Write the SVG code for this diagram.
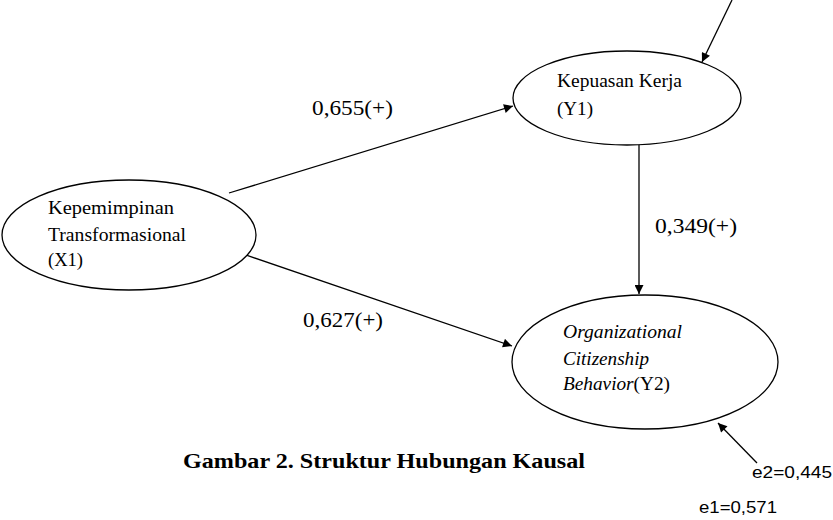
<svg xmlns="http://www.w3.org/2000/svg" width="833" height="520" viewBox="0 0 833 520">
<style>
.node{fill:#fff;stroke:#000;stroke-width:1.3}
.t{font-family:"Liberation Serif","Times New Roman",serif;fill:#000}
.lbl{font-family:"Liberation Serif","Times New Roman",serif;font-size:22px;fill:#000}
.e{font-family:"Liberation Sans",Arial,sans-serif;font-size:16px;fill:#000}
.c line{stroke:#000;stroke-width:1.3;marker-end:url(#ah)}
</style>
<defs>
<marker id="ah" viewBox="0 0 10 10" refX="10" refY="5" markerWidth="11" markerHeight="9" markerUnits="userSpaceOnUse" orient="auto">
<path d="M0,0 L10,5 L0,10 Z" fill="#000"/>
</marker>
</defs>
<rect width="833" height="520" fill="#fff"/>
<g id="connectors" class="c">
<line x1="229" y1="193" x2="513" y2="106"/>
<line x1="243" y1="254" x2="512" y2="346"/>
<line x1="639" y1="144" x2="639" y2="294"/>
<line x1="732" y1="0" x2="702" y2="62"/>
<line x1="757" y1="463" x2="718" y2="423"/>
</g>
<g id="X1">
<ellipse class="node" cx="129" cy="235" rx="127" ry="55"/>
<text class="t" font-size="19" x="48" y="214" textLength="126" lengthAdjust="spacingAndGlyphs">Kepemimpinan</text>
<text class="t" font-size="19" x="48" y="241" textLength="138" lengthAdjust="spacingAndGlyphs">Transformasional</text>
<text class="t" font-size="19" x="48" y="266" textLength="35" lengthAdjust="spacingAndGlyphs">(X1)</text>
</g>
<g id="Y1">
<ellipse class="node" cx="627" cy="98" rx="114" ry="47"/>
<text class="t" font-size="18" x="557" y="87" textLength="125" lengthAdjust="spacingAndGlyphs">Kepuasan Kerja</text>
<text class="t" font-size="18" x="557" y="115" textLength="36" lengthAdjust="spacingAndGlyphs">(Y1)</text>
</g>
<g id="Y2">
<ellipse class="node" cx="645" cy="362" rx="133" ry="67"/>
<text class="t" font-size="18" font-style="italic" x="563" y="338" textLength="119" lengthAdjust="spacingAndGlyphs">Organizational</text>
<text class="t" font-size="18" font-style="italic" x="563" y="365" textLength="86" lengthAdjust="spacingAndGlyphs">Citizenship</text>
<text class="t" font-size="18" x="563" y="390" textLength="107" lengthAdjust="spacingAndGlyphs"><tspan font-style="italic">Behavior</tspan>(Y2)</text>
</g>
<g id="labels">
<text class="lbl" x="312" y="115" textLength="81" lengthAdjust="spacingAndGlyphs">0,655(+)</text>
<text class="lbl" x="303" y="327" textLength="80" lengthAdjust="spacingAndGlyphs">0,627(+)</text>
<text class="lbl" x="655" y="233" textLength="82" lengthAdjust="spacingAndGlyphs">0,349(+)</text>
<text class="t" font-size="21" font-weight="bold" x="183" y="468" textLength="402" lengthAdjust="spacingAndGlyphs">Gambar 2. Struktur Hubungan Kausal</text>
<text class="e" x="752" y="478" textLength="80" lengthAdjust="spacingAndGlyphs">e2=0,445</text>
<text class="e" x="699" y="513" textLength="78" lengthAdjust="spacingAndGlyphs">e1=0,571</text>
</g>
</svg>
